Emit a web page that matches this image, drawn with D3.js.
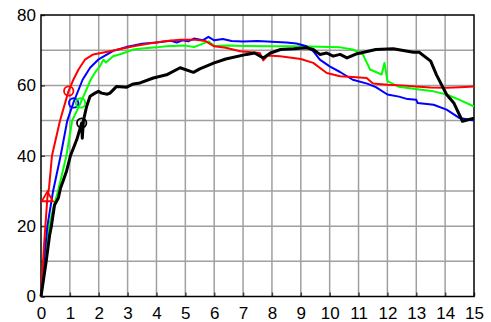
<!DOCTYPE html>
<html>
  <head>
    <script src="https://d3js.org/d3.v7.min.js"></script>
    <style>
      body { margin: 0; background: #fff; font-family: "Liberation Sans", Arial, sans-serif; }
    </style>
  </head>
  <body>
    <svg id="chart" width="491" height="322"></svg>
    <script>
      // [time, value] pairs
      var red = [[0,0],[0.1,14],[0.22,28],[0.28,31],[0.38,40],[0.66,50],[0.95,58.3],[1.12,61.6],[1.3,64.5],[1.52,67.3],[1.81,68.8],[2.39,69.7],[3.2,71.1],[3.8,72],[4.35,72.6],[4.82,73],[5.3,73],[5.7,72.6],[6.0,71.1],[6.4,70.7],[6.9,69.7],[7.58,69.2],[7.7,67.1],[7.85,68.5],[8.28,68.3],[9.0,67.5],[9.43,66.4],[9.9,63.5],[10.36,62.6],[10.8,62.4],[11.28,62.1],[11.5,60.5],[12,60.2],[12.5,60],[13.1,59.6],[13.5,59.4],[14.05,59.3],[14.5,59.5],[15,59.7]];
      var blue = [[0,0],[0.1,10],[0.22,20],[0.42,30],[0.68,40],[0.91,50],[1.12,55],[1.44,61.6],[1.7,65],[1.98,67.3],[2.5,69.8],[3,71],[3.5,71.8],[4,72.2],[4.5,72.7],[4.7,72.2],[4.9,72.8],[5.1,72.5],[5.3,73.3],[5.6,72.8],[5.8,73.8],[6.0,72.8],[6.3,73.2],[6.6,72.6],[7,72.5],[7.5,72.6],[8,72.4],[8.5,72.2],[8.85,71.9],[9.2,71.1],[9.43,69.7],[9.66,67.3],[10,65.4],[10.36,63.8],[10.8,61.6],[11.3,60.5],[11.6,59.5],[12,57.4],[12.4,56.8],[12.7,56.1],[13,55.9],[13.05,55],[13.6,54.5],[14.05,53.1],[14.5,50.7],[15,50]];
      var green = [[0,0],[0.1,10],[0.27,19.5],[0.42,25],[0.59,30],[0.88,40],[1.08,50],[1.37,55],[1.52,57.8],[1.72,61.6],[1.9,64],[2.04,65.4],[2.16,67.3],[2.25,66.5],[2.5,68.3],[2.8,69],[3.2,70.2],[3.5,70.5],[4,70.8],[4.35,71.1],[5,71.3],[5.3,70.9],[5.5,71.5],[5.8,72.5],[6,71.2],[6.5,71.3],[7,71.2],[8,71.1],[9,71.1],[9.66,71],[10.36,70.8],[10.8,70.2],[11.15,68.8],[11.4,64.5],[11.8,63.1],[11.9,66.4],[12.0,61.2],[12.4,59.6],[13.1,58.8],[13.6,58.3],[14.05,57.4],[14.5,55.9],[15,54]];
      var black = [[0,0],[0.18,10],[0.3,17.5],[0.36,20],[0.47,26],[0.6,28],[0.68,30.9],[0.76,32.7],[0.88,35.5],[1.02,40],[1.24,44.6],[1.41,49.3],[1.43,45],[1.47,50],[1.58,54],[1.7,56.9],[1.87,57.8],[1.99,58.3],[2.1,57.8],[2.3,57.5],[2.39,57.8],[2.62,59.7],[2.97,59.5],[3.2,60.4],[3.43,60.7],[3.89,62.1],[4.35,63],[4.82,65],[5.28,63.7],[5.5,64.7],[6,66.4],[6.4,67.5],[7.12,68.8],[7.4,69.2],[7.7,67.8],[7.95,69.2],[8.3,70.2],[8.75,70.4],[9.2,70.7],[9.43,70.2],[9.66,68.8],[9.9,69.2],[10.12,68.3],[10.36,68.8],[10.6,67.8],[10.95,69],[11.6,70.2],[12.2,70.4],[12.9,69.4],[13.1,69.4],[13.5,66.9],[13.7,63],[14.05,57.4],[14.3,55],[14.6,49.8],[15,50.7]];

      var circles = [
        { t: 0.96, v: 58.4, color: "#ff0000" },
        { t: 1.13, v: 55, color: "#0000ff" },
        { t: 1.37, v: 55, color: "#00ff00" },
        { t: 1.41, v: 49.3, color: "#000000" },
      ];
      var triangles = [{ t: 0.22, v: 28, color: "#ff0000" }];

      var xTicks = d3.range(0, 16);
      var yTicks = [0, 20, 40, 60, 80];
      var yGrid = [10, 20, 30, 40, 50, 60, 70];

      var svg = d3.select("#chart");
      var pLeft = 41, pRight = 474, pTop = 15, pBottom = 296.5;

      var x = d3.scaleLinear().domain([0, 15]).range([pLeft, pRight]);
      var y = d3.scaleLinear().domain([0, 80]).range([pBottom, pTop]);

      // grid
      svg.append("g")
        .selectAll("line")
        .data(xTicks.slice(1, -1))
        .enter()
        .append("line")
        .attr("x1", (d) => x(d)).attr("x2", (d) => x(d))
        .attr("y1", pTop).attr("y2", pBottom)
        .attr("stroke", "#a0a0a0")
        .attr("stroke-width", 1.5);

      svg.append("g")
        .selectAll("line")
        .data(yGrid)
        .enter()
        .append("line")
        .attr("x1", pLeft).attr("x2", pRight)
        .attr("y1", (d) => y(d)).attr("y2", (d) => y(d))
        .attr("stroke", "#a0a0a0")
        .attr("stroke-width", 1.5);

      svg.append("g")
        .attr("transform", "translate(0," + pBottom + ")")
        .call(d3.axisBottom(x).tickValues(xTicks).tickSize(-4).tickPadding(10).tickFormat(d3.format("d")));

      svg.append("g")
        .attr("transform", "translate(" + pLeft + ",0)")
        .call(d3.axisLeft(y).tickValues(yTicks).tickSize(-4).tickPadding(5).tickFormat(d3.format("d")));

      svg.selectAll(".domain").remove();
      svg.selectAll(".tick line").attr("stroke", "#444").attr("stroke-width", 1.5);
      svg.selectAll(".tick text")
        .style("font-family", "Liberation Sans, Arial, sans-serif")
        .style("font-size", "17px")
        .attr("fill", "#000");

      // frame
      svg.append("rect")
        .attr("x", pLeft).attr("y", pTop)
        .attr("width", pRight - pLeft).attr("height", pBottom - pTop)
        .attr("fill", "none")
        .attr("stroke", "#000")
        .attr("stroke-width", 1.5);

      var line = d3.line()
        .x((p) => x(p[0]))
        .y((p) => y(p[1]));

      var series = [
        { data: green, color: "#00ff00", w: 2 },
        { data: blue, color: "#0000ff", w: 2 },
        { data: red, color: "#ff0000", w: 2 },
        { data: black, color: "#000000", w: 3 },
      ];

      svg.append("g")
        .selectAll("path")
        .data(series)
        .enter()
        .append("path")
        .attr("d", (s) => line(s.data))
        .attr("fill", "none")
        .attr("stroke", (s) => s.color)
        .attr("stroke-width", (s) => s.w)
        .attr("stroke-linejoin", "round");

      svg.append("g")
        .selectAll("circle")
        .data(circles)
        .enter()
        .append("circle")
        .attr("cx", (d) => x(d.t))
        .attr("cy", (d) => y(d.v))
        .attr("r", 4.7)
        .attr("fill", "none")
        .attr("stroke", (d) => d.color)
        .attr("stroke-width", 1.8);

      svg.append("g")
        .selectAll("path")
        .data(triangles)
        .enter()
        .append("path")
        .attr("d", d3.symbol().type(d3.symbolTriangle).size(55))
        .attr("transform", (d) => "translate(" + x(d.t) + "," + y(d.v) + ")")
        .attr("fill", "none")
        .attr("stroke", (d) => d.color)
        .attr("stroke-width", 1.8);
    </script>
  </body>
</html>
